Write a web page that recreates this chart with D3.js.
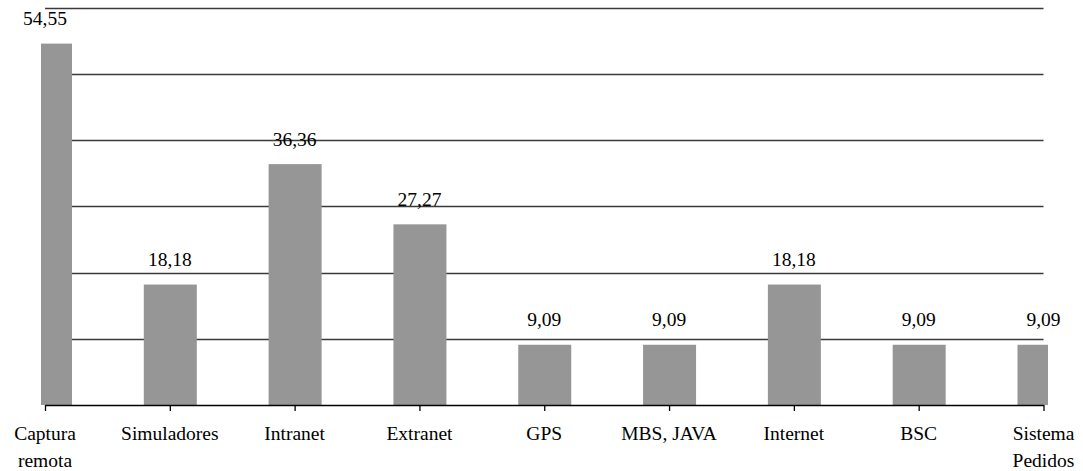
<!DOCTYPE html>
<html>
<head>
<meta charset="utf-8">
<script src="https://cdn.jsdelivr.net/npm/d3@7"></script>
<style>
html,body{margin:0;padding:0;background:#fff;}
</style>
</head>
<body>
<svg id="chart" width="1083" height="471"></svg>
<script>
const categories = [["Captura","remota"],["Simuladores"],["Intranet"],["Extranet"],["GPS"],["MBS, JAVA"],["Internet"],["BSC"],["Sistema","Pedidos"]];
const values = [54.55, 18.18, 36.36, 27.27, 9.09, 9.09, 18.18, 9.09, 9.09];
const valueLabels = ["54,55","18,18","36,36","27,27","9,09","9,09","18,18","9,09","9,09"];
const gridTicks = [10, 20, 30, 40, 50, 60];

const FONT = '"Liberation Serif", "Times New Roman", Tinos, serif';
const svg = d3.select("#chart");
const keys = categories.map((c, i) => i);

const x = d3.scalePoint().domain(keys).range([45, 1043.5]);
const y = d3.scaleLinear().domain([0, 60]).range([405, 7.5]);
const barW = 53;

svg.append("defs").append("clipPath").attr("id", "clip")
  .append("rect").attr("x", 41).attr("y", 0).attr("width", 1048 - 41).attr("height", 406);

svg.append("g").selectAll("line").data(gridTicks).join("line")
  .attr("x1", x(0)).attr("x2", x(keys.length - 1))
  .attr("y1", d => Math.round(y(d)) + 0.5).attr("y2", d => Math.round(y(d)) + 0.5)
  .attr("stroke", "#3a3a3a").attr("stroke-width", 1.3);

svg.append("g").attr("clip-path", "url(#clip)").selectAll("rect").data(values).join("rect")
  .attr("x", (d, i) => x(i) - barW / 2 + 0.5)
  .attr("width", barW)
  .attr("y", d => y(d))
  .attr("height", d => y(0) - y(d))
  .attr("fill", "#969696");

const axis = d3.axisBottom(x).tickSize(6).tickSizeOuter(0).tickFormat("");
const gx = svg.append("g").attr("transform", `translate(0,${y(0)})`).call(axis);
gx.select(".domain").attr("stroke", "#000").attr("stroke-width", 1.3);
gx.selectAll(".tick line").attr("stroke", "#000").attr("stroke-width", 1.3);

const lab = svg.append("g").selectAll("text").data(categories).join("text")
  .attr("text-anchor", "middle")
  .style("font-family", FONT)
  .style("font-size", "19.5px")
  .attr("fill", "#000");
lab.each(function(d, i) {
  const t = d3.select(this);
  d.forEach((line, j) => {
    t.append("tspan").attr("x", x(i)).attr("y", 440 + j * 26.5).text(line);
  });
});

svg.append("g").selectAll("text").data(values).join("text")
  .attr("x", (d, i) => x(i))
  .attr("y", d => y(d) - 18.5)
  .attr("text-anchor", "middle")
  .style("font-family", FONT)
  .style("font-size", "19.5px")
  .attr("fill", "#000")
  .text((d, i) => valueLabels[i]);
</script>
</body>
</html>
